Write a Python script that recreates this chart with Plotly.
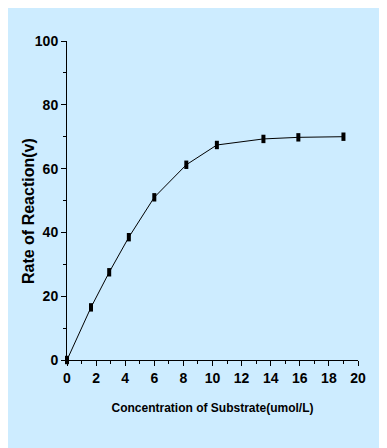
import plotly.graph_objects as go

conc = [0, 1.65, 2.9, 4.25, 6.0, 8.2, 10.3, 13.5, 15.9, 19.0]
rate = [0, 16.5, 27.5, 38.5, 51.0, 61.2, 67.4, 69.3, 69.8, 70.0]

x_ticks = list(range(0, 21, 2))
y_ticks = list(range(0, 101, 20))

bg = "#cdecff"
font = dict(family="Liberation Sans", size=13, color="black")

fig = go.Figure()
fig.add_trace(go.Scatter(
    x=conc, y=rate, mode="lines+markers",
    line=dict(color="black", width=1),
    marker=dict(symbol="line-ns", size=6, color="black",
                line=dict(color="black", width=4)),
    cliponaxis=False,
))

axis_common = dict(
    showgrid=False, zeroline=False, showline=True, linecolor="black", linewidth=1,
    ticks="outside", ticklen=5, tickwidth=1, tickcolor="black",
    tickfont=dict(family="Liberation Sans", size=14, color="black", weight="bold"),
    mirror=False, automargin=False,
)

fig.update_xaxes(
    range=[0, 20], tickvals=x_ticks, ticktext=[str(v) for v in x_ticks],
    minor=dict(ticks="outside", ticklen=3, dtick=1, tickcolor="black"),
    title=dict(text="Concentration of Substrate(umol/L)",
               font=dict(family="Liberation Sans", size=12, color="black", weight="bold"),
               standoff=18),
    **axis_common,
)
fig.update_yaxes(
    range=[0, 100], tickvals=y_ticks, ticktext=[str(v) for v in y_ticks],
    minor=dict(ticks="outside", ticklen=3, dtick=10, tickcolor="black"),
    **axis_common,
)

fig.add_annotation(
    text="Rate of Reaction(v)", textangle=-90, showarrow=False,
    xref="paper", yref="paper", x=-0.134, y=0.467,
    xanchor="center", yanchor="middle",
    font=dict(family="Liberation Sans", size=16, color="black", weight="bold"),
)

fig.update_layout(
    width=387, height=448,
    margin=dict(l=59, r=37, t=33, b=96),
    paper_bgcolor=bg, plot_bgcolor=bg,
    showlegend=False, font=font,
)

fig.write_html("out.html")
